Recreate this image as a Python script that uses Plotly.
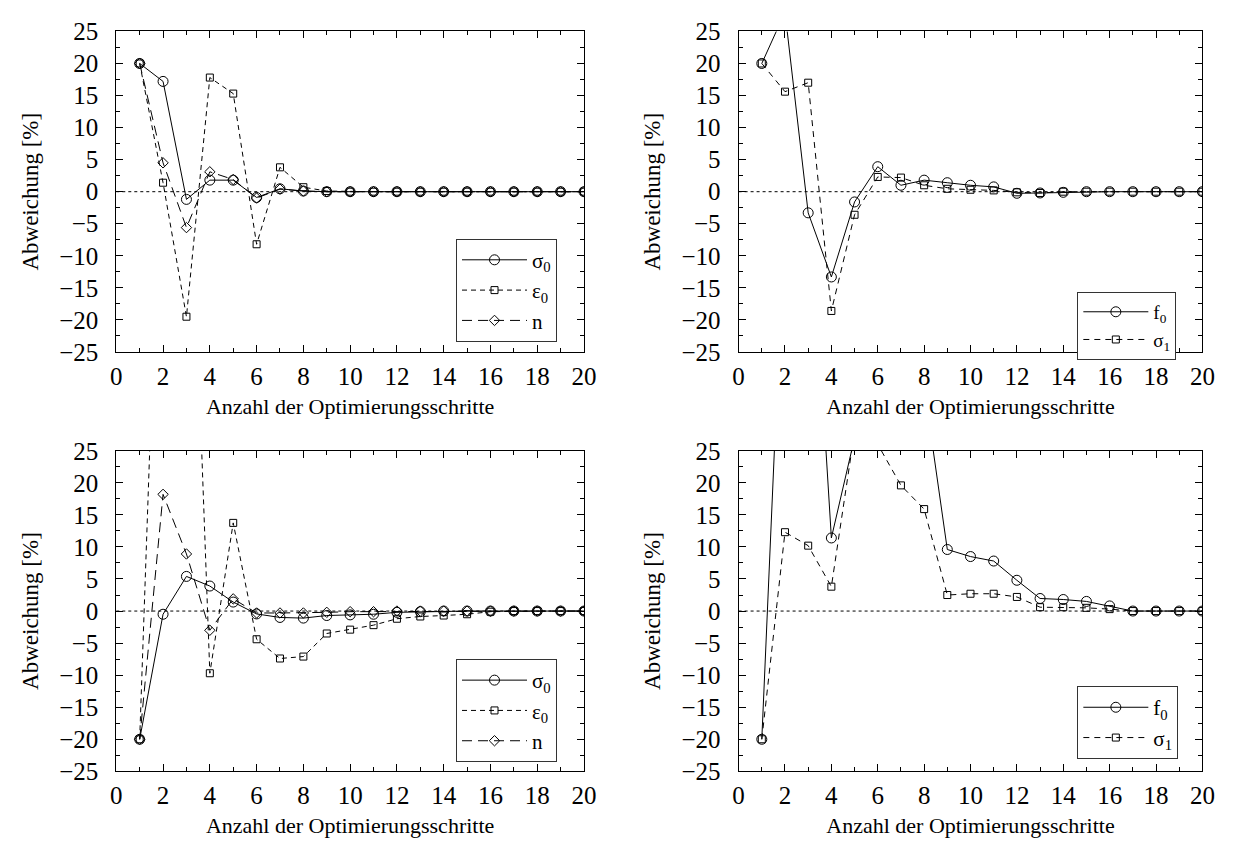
import plotly.graph_objects as go
from plotly.subplots import make_subplots

steps = list(range(1, 21))

# top-left panel
tl_sigma0 = [20, 17.2, -1.2, 1.8, 1.8, -0.9, 0.45, 0.1, 0, 0, 0, 0, 0, 0, 0, 0, 0, 0, 0, 0]
tl_eps0 = [20, 1.4, -19.5, 17.8, 15.3, -8.2, 3.8, 0.7, 0.1, 0, 0, 0, 0, 0, 0, 0, 0, 0, 0, 0]
tl_n = [20, 4.5, -5.6, 3.1, 1.9, -1.0, 0.4, 0.1, 0, 0, 0, 0, 0, 0, 0, 0, 0, 0, 0, 0]

# top-right panel
tr_f0 = [20, 28, -3.3, -13.3, -1.6, 3.9, 1.0, 1.8, 1.4, 1.0, 0.75, -0.25, -0.2, -0.1, 0, 0, 0, 0, 0, 0]
tr_sigma1 = [20, 15.6, 17.0, -18.6, -3.6, 2.3, 2.2, 1.0, 0.45, 0.3, 0.2, -0.1, -0.2, 0, 0, 0, 0, 0, 0, 0]

# bottom-left panel
bl_sigma0 = [-20, -0.5, 5.4, 3.9, 1.4, -0.45, -1.0, -1.1, -0.7, -0.6, -0.5, -0.2, -0.1, 0, 0, 0, 0, 0, 0, 0]
bl_eps0 = [-20, 85, 90, -9.7, 13.75, -4.4, -7.4, -7.1, -3.5, -2.9, -2.2, -1.2, -0.85, -0.7, -0.5, -0.1, 0, 0, 0, 0]
bl_n = [-20, 18.2, 8.9, -3.0, 1.9, -0.3, -0.3, -0.3, -0.2, -0.1, -0.1, 0, 0, 0, 0, 0, 0, 0, 0, 0]

# bottom-right panel
br_f0 = [-20, 63, 70, 11.4, 27, 32, 38, 35, 9.6, 8.5, 7.8, 4.8, 1.96, 1.8, 1.5, 0.8, 0, 0, 0, 0]
br_sigma1 = [-20, 12.3, 10.2, 3.8, 28, 26, 19.6, 15.9, 2.5, 2.7, 2.7, 2.2, 0.6, 0.6, 0.5, 0.3, 0, 0, 0, 0]

x_ticks = [0, 2, 4, 6, 8, 10, 12, 14, 16, 18, 20]
y_ticks = [-25, -20, -15, -10, -5, 0, 5, 10, 15, 20, 25]
y_ticktext = [("\u2212" + str(-v)) if v < 0 else str(v) for v in y_ticks]

FONT = "Liberation Serif"

fig = make_subplots(rows=2, cols=2)

def add(row, col, y, name, dash, symbol, size, legend):
    fig.add_trace(go.Scatter(
        x=steps, y=y, name=name, mode="lines+markers",
        line=dict(color="black", width=1, dash=dash),
        marker=dict(symbol=symbol, size=size, color="black", line=dict(width=1, color="black")),
        legend=legend, cliponaxis=True,
    ), row=row, col=col)

S0 = "σ<sub>0</sub>"
E0 = "ε<sub>0</sub>"
F0 = "f<sub>0</sub>"
S1 = "σ<sub>1</sub>"

add(1, 1, tl_sigma0, S0, "solid", "circle-open", 10, "legend")
add(1, 1, tl_eps0, E0, "5px,4px", "square-open", 7, "legend")
add(1, 1, tl_n, "n", "10px,6px", "diamond-open", 8, "legend")

add(1, 2, tr_f0, F0, "solid", "circle-open", 10, "legend2")
add(1, 2, tr_sigma1, S1, "6px,5px", "square-open", 7, "legend2")

add(2, 1, bl_sigma0, S0, "solid", "circle-open", 10, "legend3")
add(2, 1, bl_eps0, E0, "5px,4px", "square-open", 7, "legend3")
add(2, 1, bl_n, "n", "10px,6px", "diamond-open", 8, "legend3")

add(2, 2, br_f0, F0, "solid", "circle-open", 10, "legend4")
add(2, 2, br_sigma1, S1, "6px,5px", "square-open", 7, "legend4")

W, H = 1241, 857
xdom_l = [112 / W, 587 / W]
xdom_r = [744 / W, 1215 / W]
ydom_t = [1 - 350 / H, 1 - 19 / H]
ydom_b = [1 - 783 / H, 1 - 452 / H]

fig.update_layout(
    xaxis=dict(domain=xdom_l, anchor="y"),
    yaxis=dict(domain=ydom_t, anchor="x"),
    xaxis2=dict(domain=xdom_r, anchor="y2"),
    yaxis2=dict(domain=ydom_t, anchor="x2"),
    xaxis3=dict(domain=xdom_l, anchor="y3"),
    yaxis3=dict(domain=ydom_b, anchor="x3"),
    xaxis4=dict(domain=xdom_r, anchor="y4"),
    yaxis4=dict(domain=ydom_b, anchor="x4"),
)

common = dict(
    showline=True, linecolor="black", linewidth=1, mirror="ticks",
    ticks="inside", ticklen=7, tickwidth=1, tickcolor="black",
    showgrid=False, zeroline=False,
)

fig.update_xaxes(
    **common,
    range=[0, 20], tickmode="array", tickvals=x_ticks, ticktext=[str(v) for v in x_ticks],
    minor=dict(ticks="inside", ticklen=4, tickvals=list(range(1, 20, 2)), tickcolor="black"),
    tickfont=dict(family=FONT, size=25, color="black"),
    title=dict(text="Anzahl der Optimierungsschritte", standoff=9,
               font=dict(family=FONT, size=22, color="black")),
    ticklabelstandoff=2,
)
fig.update_yaxes(
    **common,
    range=[-25, 25], tickmode="array", tickvals=y_ticks, ticktext=y_ticktext,
    minor=dict(ticks="inside", ticklen=4, tickvals=[v + 2.5 for v in y_ticks[:-1]], tickcolor="black"),
    tickfont=dict(family=FONT, size=25, color="black"),
    title=dict(text="Abweichung [%]", standoff=14,
               font=dict(family=FONT, size=23, color="black")),
    ticklabelstandoff=12,
)

# dotted zero lines
for xr, yr in [("x", "y"), ("x2", "y2"), ("x3", "y3"), ("x4", "y4")]:
    fig.add_shape(type="line", xref=f"{xr} domain", yref=yr, x0=0, x1=1, y0=0, y1=0,
                  line=dict(color="black", width=1, dash="dot"), layer="below")

def leg(x, y, size):
    return dict(
        x=x, y=y, xanchor="left", yanchor="top", bordercolor="#333", borderwidth=1,
        bgcolor="white", font=dict(family=FONT, size=size, color="black"),
        itemwidth=65, tracegroupgap=0, traceorder="normal",
    )

fig.update_layout(
    width=W, height=H,
    margin=dict(l=0, r=0, t=0, b=0),
    paper_bgcolor="white", plot_bgcolor="white",
    showlegend=True,
    legend=leg(457 / W, 1 - 233 / H, 21),
    legend2=leg(1088 / W, 1 - 288 / H, 19),
    legend3=leg(457 / W, 1 - 667 / H, 21),
    legend4=leg(1088 / W, 1 - 695 / H, 21),
)

fig.write_html("out.html")
